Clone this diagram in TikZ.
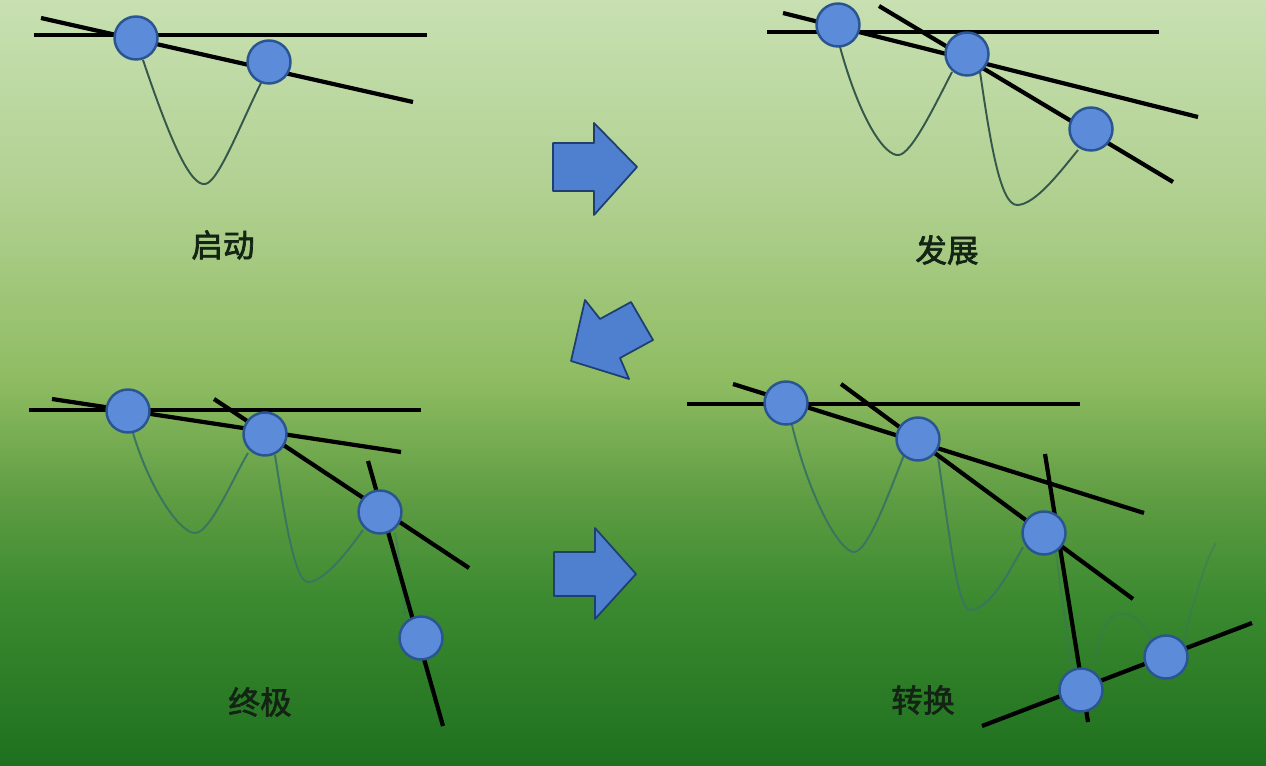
\documentclass[tikz,border=0pt]{standalone}
\usepackage{fontspec}
\newfontfamily\cjk[AutoFakeBold=2.2]{Noto Sans CJK SC}
\definecolor{bgA}{HTML}{1F701F}
\definecolor{bgB}{HTML}{3B8A30}
\definecolor{bgC}{HTML}{5E9C42}
\definecolor{bgD}{HTML}{8FBC62}
\definecolor{bgE}{HTML}{B0D090}
\definecolor{bgF}{HTML}{C8E0B2}
\definecolor{ballfill}{HTML}{5B8BD9}
\definecolor{balledge}{HTML}{2A5590}
\definecolor{arrfill}{HTML}{4F80D0}
\definecolor{arredge}{HTML}{1F3F70}
\definecolor{wave}{HTML}{35584A}
\definecolor{wave2}{HTML}{3A7560}
\definecolor{txt}{HTML}{142414}
\pgfdeclareverticalshading{bgshade}{100bp}{color(0bp)=(bgA); color(25bp)=(bgA); color(35.8bp)=(bgB); color(42.4bp)=(bgC); color(50.2bp)=(bgD); color(62bp)=(bgE); color(75bp)=(bgF); color(100bp)=(bgF)}
\tikzset{
  ball/.style={circle, draw=balledge, line width=1.4pt, fill=ballfill, minimum size=0.86cm, inner sep=0pt},
  trend/.style={line width=2.4pt, black},
  wavy/.style={line width=1.1pt, wave},
  wavyB/.style={line width=1.1pt, wave2},
  faint/.style={line width=1.1pt, wave2, opacity=0.45},
  bigarrow/.style={fill=arrfill, draw=arredge, line width=1pt, line join=round},
  caption/.style={font=\cjk\bfseries\fontsize{18pt}{20pt}\selectfont, text=txt, inner sep=0pt}
}
\begin{document}
\begin{tikzpicture}[x=0.02cm, y=-0.02cm]
\shade[shading=bgshade] (0,0) rectangle (1266,766);
\useasboundingbox (0,0) rectangle (1266,766);

% ---------- Panel 1: 启动 ----------
\coordinate (h1a) at (34,35);  \coordinate (h1b) at (427,35);
\coordinate (s1a) at (41,18);  \coordinate (s1b) at (413,102);
\draw[wavy] (143,60) .. controls (170,140) and (190,186) .. (205,184) .. controls (218,183) and (240,125) .. (261,83);
\draw[trend] (h1a) -- (h1b);
\draw[trend] (s1a) -- (s1b);
\node[ball] (p1c1) at (136,38) {};
\node[ball] (p1c2) at (269,62) {};
\node[caption] (t1) at (223,245) {启动};

% ---------- Panel 2: 发展 ----------
\coordinate (h2a) at (767,32);  \coordinate (h2b) at (1159,32);
\coordinate (a2a) at (783,13);  \coordinate (a2b) at (1198,117);
\coordinate (b2a) at (879,6);   \coordinate (b2b) at (1173,182);
\draw[wavy] (840,47) .. controls (860,120) and (885,157) .. (899,155) .. controls (912,153) and (935,105) .. (952,72);
\draw[wavy] (980,72) .. controls (990,140) and (1000,205) .. (1017,205) .. controls (1035,205) and (1060,172) .. (1078,150);
\draw[trend] (h2a) -- (h2b);
\draw[trend] (a2a) -- (a2b);
\draw[trend] (b2a) -- (b2b);
\node[ball] (p2c1) at (838,25) {};
\node[ball] (p2c2) at (967,54) {};
\node[ball] (p2c3) at (1091,129) {};
\node[caption] (t2) at (947,250) {发展};

% ---------- Panel 3: 终极 ----------
\coordinate (h3a) at (29,410);  \coordinate (h3b) at (421,410);
\coordinate (a3a) at (52,399);  \coordinate (a3b) at (401,452);
\coordinate (b3a) at (214,399); \coordinate (b3b) at (469,568);
\coordinate (c3a) at (368,461); \coordinate (c3b) at (443,726);
\draw[wavyB] (133,433) .. controls (150,490) and (180,533) .. (195,533) .. controls (210,533) and (232,480) .. (248,453);
\draw[wavyB] (275,455) .. controls (285,520) and (295,582) .. (308,582) .. controls (325,582) and (350,548) .. (363,530);
\draw[faint] (395,533) .. controls (400,560) and (403,590) .. (405,615);
\draw[trend] (h3a) -- (h3b);
\draw[trend] (a3a) -- (a3b);
\draw[trend] (b3a) -- (b3b);
\draw[trend] (c3a) -- (c3b);
\node[ball] (p3c1) at (128,411) {};
\node[ball] (p3c2) at (265,434) {};
\node[ball] (p3c3) at (380,512) {};
\node[ball] (p3c4) at (421,638) {};
\node[caption] (t3) at (260,702) {终极};

% ---------- Panel 4: 转换 ----------
\coordinate (h4a) at (687,404);  \coordinate (h4b) at (1080,404);
\coordinate (a4a) at (733,384);  \coordinate (a4b) at (1144,513);
\coordinate (b4a) at (841,384);  \coordinate (b4b) at (1133,599);
\coordinate (c4a) at (1045,454); \coordinate (c4b) at (1088,722);
\coordinate (d4a) at (982,726);  \coordinate (d4b) at (1252,623);
\draw[wavyB] (792,425) .. controls (810,500) and (840,552) .. (854,552) .. controls (868,552) and (890,490) .. (904,455);
\draw[wavyB] (938,457) .. controls (950,540) and (958,610) .. (970,610) .. controls (990,610) and (1010,570) .. (1023,547);
\draw[faint] (1056,553) .. controls (1062,600) and (1068,640) .. (1072,667);
\draw[faint] (1095,663) .. controls (1100,630) and (1108,615) .. (1120,614) .. controls (1135,613) and (1145,625) .. (1152,640);
\draw[faint] (1183,640) .. controls (1195,600) and (1205,560) .. (1216,543);
\draw[trend] (h4a) -- (h4b);
\draw[trend] (a4a) -- (a4b);
\draw[trend] (b4a) -- (b4b);
\draw[trend] (c4a) -- (c4b);
\draw[trend] (d4a) -- (d4b);
\node[ball] (p4c1) at (786,403) {};
\node[ball] (p4c2) at (918,439) {};
\node[ball] (p4c3) at (1044,533) {};
\node[ball] (p4c4) at (1081,690) {};
\node[ball] (p4c5) at (1166,657) {};
\node[caption] (t4) at (923,700) {转换};

% ---------- Arrows ----------
\path[bigarrow] (553,143) -- (594,143) -- (594,123) -- (637,167) -- (594,215) -- (594,191) -- (553,191) -- cycle;
\path[bigarrow] (585,300) -- (600,319) -- (631,302) -- (653,340) -- (620,358) -- (629,379) -- (571,361) -- cycle;
\path[bigarrow] (554,552) -- (595,552) -- (595,528) -- (636,574) -- (595,619) -- (595,596) -- (554,596) -- cycle;
\end{tikzpicture}
\end{document}
